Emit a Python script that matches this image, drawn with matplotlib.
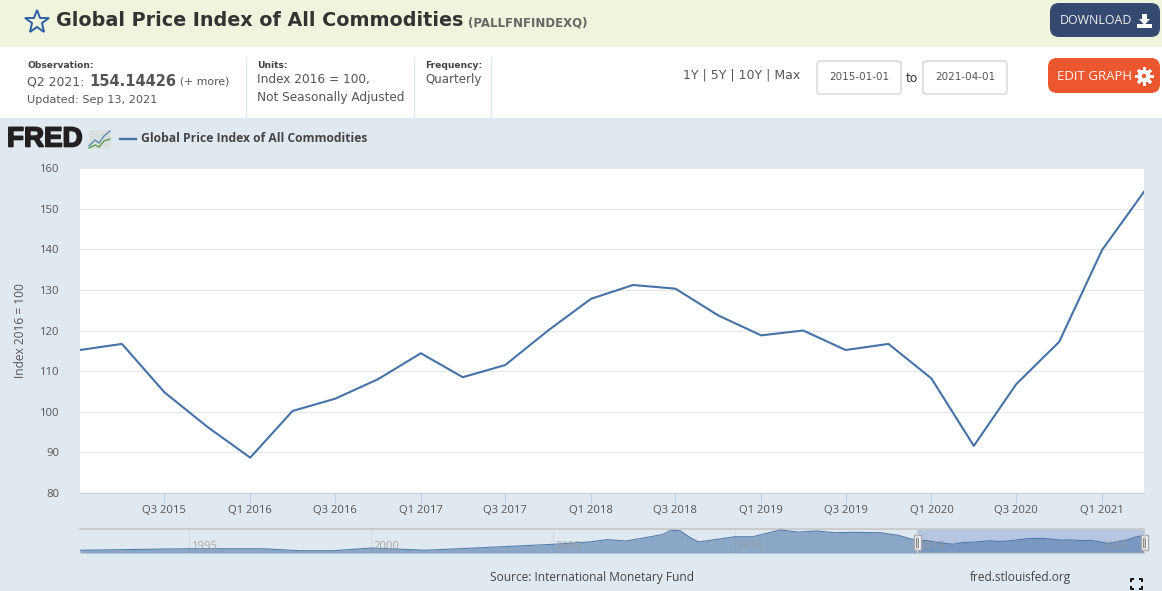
import matplotlib
matplotlib.use("Agg")
import matplotlib.pyplot as plt
import matplotlib.dates as mdates
import matplotlib.patheffects as pe
import pandas as pd
from matplotlib.patches import FancyBboxPatch, Rectangle, Polygon, Circle

W, H = 1162, 591

# main series, quarterly
dates = pd.date_range("2015-01-01", "2021-04-01", freq="QS")
values = [115.2, 116.7, 104.8, 96.3, 88.7, 100.2, 103.2, 108.0, 114.4, 108.5,
          111.5, 120.0, 127.8, 131.2, 130.3, 123.7, 118.8, 120.0, 115.2, 116.7,
          108.2, 91.6, 106.8, 117.2, 139.8, 154.14426]
y_ticks = [80, 90, 100, 110, 120, 130, 140, 150, 160]
x_tick_dates = dates[2::2]
x_tick_labels = ["Q3 2015", "Q1 2016", "Q3 2016", "Q1 2017", "Q3 2017", "Q1 2018",
                 "Q3 2018", "Q1 2019", "Q3 2019", "Q1 2020", "Q3 2020", "Q1 2021"]

# navigator series before the selected range
nav_dates = ["1992-01-01", "1995-01-01", "1997-01-01", "1998-01-01", "1999-01-01",
             "2000-01-01", "2001-07-01", "2003-01-01", "2005-01-01", "2006-01-01",
             "2006-07-01", "2007-01-01", "2007-07-01", "2008-01-01", "2008-04-01",
             "2008-07-01", "2008-10-01", "2009-01-01", "2010-01-01", "2010-07-01",
             "2011-04-01", "2011-10-01", "2012-04-01", "2012-10-01", "2013-04-01",
             "2014-01-01", "2014-07-01"]
nav_values = [45, 56, 56, 42, 42, 61, 45, 63, 88, 105, 122, 112, 134, 158, 190,
              186, 140, 105, 143, 143, 192, 177, 185, 172, 175, 172, 153]
nav_years = [1995, 2000, 2005, 2010, 2015, 2020]

BG = "#e1e9f0"
HEADER = "#eff5dc"
TEXT = "#555555"
LINE = "#4572a7"
NAVY = "#34496f"
ORANGE = "#ed5730"
HEADER_FONT = "DejaVu Sans"
CHART_FONT = "Open Sans"

fig = plt.figure(figsize=(W / 100, H / 100), dpi=100, facecolor=BG)


def px_axes(x0, y0, x1, y1, **kw):
    return fig.add_axes([x0 / W, 1 - y1 / H, (x1 - x0) / W, (y1 - y0) / H], **kw)


# page furniture drawn in pixel coordinates
ui = px_axes(0, 0, W, H)
ui.set_xlim(0, W)
ui.set_ylim(H, 0)
ui.axis("off")
ui.add_patch(Rectangle((0, 0), W, 47, color=HEADER, lw=0))
ui.add_patch(Rectangle((0, 47), W, 71, color="white", lw=0))

ui.plot([37], [22], marker="*", ms=18, mfc="none", mec="#2f5fa5", mew=1.4)
ui.text(56, 21, "Global Price Index of All Commodities", fontsize=13.8, fontweight="bold",
        color="#333333", va="center", family=HEADER_FONT)
ui.text(468, 23.5, "(PALLFNFINDEXQ)", fontsize=8.5, fontweight="bold", color="#666666",
        va="center", family=HEADER_FONT)

ui.text(27, 65, "Observation:", fontsize=6.6, fontweight="bold", color="#444444", va="center", family=HEADER_FONT)
ui.text(27, 82, "Q2 2021:", fontsize=8.9, color=TEXT, va="center", family=HEADER_FONT)
ui.text(89, 81, "154.14426", fontsize=10.5, fontweight="bold", color=TEXT, va="center", family=HEADER_FONT)
ui.text(180, 82, "(+ more)", fontsize=7.8, color=TEXT, va="center", family=HEADER_FONT)
ui.text(27, 100, "Updated: Sep 13, 2021", fontsize=8.1, color=TEXT, va="center", family=HEADER_FONT)
ui.text(257, 65, "Units:", fontsize=6.6, fontweight="bold", color="#444444", va="center", family=HEADER_FONT)
ui.text(257, 80, "Index 2016 = 100,", fontsize=8.7, color=TEXT, va="center", family=HEADER_FONT)
ui.text(257, 97, "Not Seasonally Adjusted", fontsize=8.7, color=TEXT, va="center", family=HEADER_FONT)
ui.text(425, 65, "Frequency:", fontsize=6.6, fontweight="bold", color="#444444", va="center", family=HEADER_FONT)
ui.text(425, 80, "Quarterly", fontsize=8.5, color=TEXT, va="center", family=HEADER_FONT)
for x in [246, 414, 491]:
    ui.plot([x, x], [57, 118], color=BG, lw=1)

ui.text(683, 75, "1Y | 5Y | 10Y | Max", fontsize=9, color=TEXT, va="center", family=HEADER_FONT)
for x0, label in [(817, "2015-01-01"), (923, "2021-04-01")]:
    ui.add_patch(FancyBboxPatch((x0, 61), 84, 33, boxstyle="round,pad=0,rounding_size=3",
                                fc="white", ec="#cccccc", lw=0.8))
    ui.text(x0 + 42, 77.5, label, fontsize=7.5, color=TEXT, ha="center", va="center", family=HEADER_FONT)
ui.text(912, 78, "to", fontsize=8.8, color="#333333", ha="center", va="center", family=HEADER_FONT)

# buttons
ui.add_patch(FancyBboxPatch((1050, 3), 110, 34, boxstyle="round,pad=0,rounding_size=9", fc=NAVY, ec="none"))
ui.text(1060, 21, "DOWNLOAD", fontsize=8.9, color="#f0f0f0", va="center", family=CHART_FONT)
ui.add_patch(Polygon([(1142, 14), (1147, 14), (1147, 19), (1150, 19), (1144.5, 25), (1139, 19), (1142, 19)],
                     fc="white", ec="none"))
ui.add_patch(Rectangle((1137, 24), 15, 4, fc="white", ec="none"))
ui.add_patch(FancyBboxPatch((1048, 58), 112, 35, boxstyle="round,pad=0,rounding_size=9", fc=ORANGE, ec="none"))
ui.text(1057, 76.5, "EDIT GRAPH", fontsize=9.5, color="#f6f6f6", va="center", family=CHART_FONT)
ui.plot([1144], [76], marker="8", ms=10, color="white", mew=0)
ui.plot([1144], [76], marker=(8, 2, 0), ms=13, color="white", mew=2)
ui.add_patch(Circle((1144, 76), 2.2, fc=ORANGE, ec="none", zorder=5))

# FRED logo and legend
ui.text(7, 139.5, "FRED", fontsize=20, fontweight="bold", color="#231f20", va="center",
        family="Liberation Sans", path_effects=[pe.withStroke(linewidth=1.2, foreground="#231f20")])
ui.add_patch(Rectangle((89, 130), 22, 19, fc="#d9dedf", ec="none"))
ui.plot([89, 95, 99, 104, 110], [146, 140, 143, 136, 131], color="#5f8fae", lw=1)
ui.plot([89, 95, 99, 104, 110], [148, 145, 147, 141, 139], color="#5aa04a", lw=1)
ui.plot([120, 136], [138.5, 138.5], color=LINE, lw=1.7)
ui.text(141, 139, "Global Price Index of All Commodities", fontsize=8.7, fontweight="bold",
        color="#444444", va="center", family=CHART_FONT)

ui.text(592, 577, "Source: International Monetary Fund", fontsize=8.6, color="#444444",
        ha="center", va="center", family=CHART_FONT)
ui.text(1020, 577, "fred.stlouisfed.org", fontsize=8.6, color="#444444",
        ha="center", va="center", family=CHART_FONT)
for cx, cy, dx, dy in [(1131, 579, 1, 1), (1142, 579, -1, 1), (1131, 589, 1, -1), (1142, 589, -1, -1)]:
    ui.plot([cx + 3 * dx, cx, cx], [cy, cy, cy + 3 * dy], color="#111111", lw=1.4, solid_capstyle="butt")

# main chart
ax = px_axes(80, 168, 1144, 493, facecolor="white")
ax.plot(dates, values, color=LINE, lw=1.5, solid_joinstyle="round", clip_on=True)
ax.set_xlim(dates[0], dates[-1])
ax.set_ylim(80, 160)
ax.set_yticks(y_ticks)
ax.set_xticks(x_tick_dates)
ax.set_xticklabels(x_tick_labels)
ax.grid(axis="y", color="#e6e6e6", lw=0.8)
ax.set_axisbelow(True)
for side in ["top", "right", "left"]:
    ax.spines[side].set_visible(False)
ax.spines["bottom"].set_color("#c0d0e0")
ax.tick_params(axis="x", length=7, width=0.8, color="#c0d0e0", pad=1.5, labelsize=8.1, labelcolor="#555555")
ax.tick_params(axis="y", length=0, pad=15, labelsize=8.1, labelcolor="#555555")
for label in ax.get_xticklabels() + ax.get_yticklabels():
    label.set_family(CHART_FONT)
ax.set_ylabel("Index 2016 = 100", fontsize=8.6, color="#555555", family=CHART_FONT)
ax.yaxis.set_label_coords((27 - 80) / 1064, 0.5)

# navigator
nav = px_axes(80, 529, 1144, 553)
nav.patch.set_alpha(0)
nav_x = list(pd.to_datetime(nav_dates)) + list(dates)
nav_y = nav_values + values
start, end = pd.Timestamp("1992-01-01"), dates[-1]
nav.set_xlim(start, end)
nav.set_ylim(25, 199)
nav.axvspan(dates[0], dates[-1], color="#b6c6e2", lw=0, zorder=1)
nav.fill_between(nav_x, nav_y, 25, color="#4572a7", alpha=0.55, lw=0, zorder=2)
nav.plot(nav_x, nav_y, color=LINE, lw=0.8, alpha=0.9, zorder=3)
for year in nav_years:
    when = pd.Timestamp(f"{year}-01-01")
    nav.axvline(when, color="#d4d8dc", lw=0.7, zorder=0)
    nav.annotate(str(year), (mdates.date2num(when), 0), xycoords=("data", "axes fraction"),
                 xytext=(2, 3), textcoords="offset points", fontsize=8.1, color="#999999",
                 alpha=0.8, family=CHART_FONT, zorder=4)
nav.set_xticks([])
nav.set_yticks([])
for side in ["left", "right", "bottom"]:
    nav.spines[side].set_visible(False)
nav.spines["top"].set_color("#cccccc")
nav.spines["top"].set_linewidth(1.4)

# selection frame and handles
ui2 = px_axes(0, 0, W, H)
ui2.set_xlim(0, W)
ui2.set_ylim(H, 0)
ui2.axis("off")
ui2.plot([917, 917, 1144, 1144], [529, 553, 553, 529], color="#c8ccd2", lw=1)
for x in [917, 1144]:
    ui2.add_patch(Rectangle((x - 3.5, 535), 7, 15, fc="#f6f6f6", ec="#a8a8a8", lw=1))
    ui2.plot([x - 1, x - 1], [538, 547], color="#888888", lw=0.7)
    ui2.plot([x + 1, x + 1], [538, 547], color="#888888", lw=0.7)

fig.savefig("out.png", dpi=100, facecolor=BG)
plt.close(fig)
